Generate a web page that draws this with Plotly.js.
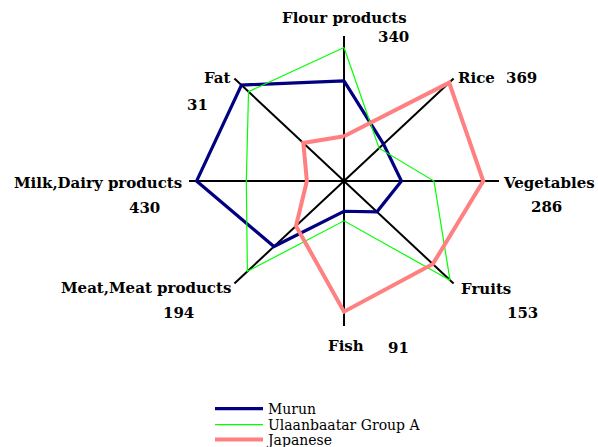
<!DOCTYPE html>
<html>
<head>
<meta charset="utf-8">
<script src="https://cdn.plot.ly/plotly-3.0.1.min.js"></script>
<style>html,body{margin:0;padding:0;background:#fff;}#chart{width:598px;height:447px;}</style>
</head>
<body>
<div id="chart"></div>
<script>
// ---- data ----
const categories = ['Flour products','Rice','Vegetables','Fruits','Fish','Meat,Meat products','Milk,Dairy products','Fat'];
const axisMax = [340, 369, 286, 153, 91, 194, 430, 31];
const seriesNames = ['Murun', 'Ulaanbaatar Group A', 'Japanese'];
const murun = [235, 133, 106, 46, 19, 124, 409, 29];
const ulaanbaatarA = [313, 118, 166, 148, 25, 171, 271, 27];
const japanese = [105, 354, 257, 124, 82, 85, 103, 11.5];

// ---- layout helpers ----
const W = 598, H = 447;
const cx = 344, cy = 181, sx = 155, sy = 145; // pixel centre and unit lengths
const angles = categories.map((_, i) => i * 2 * Math.PI / categories.length);
function toXY(vals) {
  const r = vals.map((v, i) => v / axisMax[i]);
  const x = r.map((ri, i) => ri * Math.sin(angles[i]));
  const y = r.map((ri, i) => ri * Math.cos(angles[i]));
  x.push(x[0]); y.push(y[0]);
  return {x, y};
}

const traces = [];
// spokes (axis lines through centre)
for (let i = 0; i < categories.length / 2; i++) {
  const a = angles[i], b = angles[i + categories.length / 2];
  traces.push({
    type: 'scatter', mode: 'lines', showlegend: false, hoverinfo: 'skip',
    x: [Math.sin(a), Math.sin(b)], y: [Math.cos(a), Math.cos(b)],
    line: {color: '#000000', width: 2}
  });
}
const styles = [
  {color: '#000080', width: 3.2},
  {color: '#00ff00', width: 1.2},
  {color: '#ff8080', width: 4}
];
const legendIds = ['legend', 'legend2', 'legend3'];
[murun, ulaanbaatarA, japanese].forEach((vals, k) => {
  const p = toXY(vals);
  traces.push({
    type: 'scatter', mode: 'lines', name: seriesNames[k], legend: legendIds[k],
    x: p.x, y: p.y, line: styles[k], hoverinfo: 'skip'
  });
});

// label placement (pixel centres)
const labelPos = [[345,18],[476,78],[549,183],[486,289],[346,346],[146,288],[98,183],[217,78]];
const maxPos = [[393,37],[521,78],[546,207],[522,313],[398,348],[178,313],[144,208],[197,105]];
const annotations = [];
const lblFont = {family: 'DejaVu Serif', size: 15, color: '#000', weight: 'bold'};
categories.forEach((c, i) => {
  annotations.push({xref:'paper', yref:'paper', x: labelPos[i][0]/W, y: 1 - labelPos[i][1]/H,
    text: c, showarrow: false, xanchor: 'center', yanchor: 'middle', font: lblFont});
  annotations.push({xref:'paper', yref:'paper', x: maxPos[i][0]/W, y: 1 - maxPos[i][1]/H,
    text: String(axisMax[i]), showarrow: false, xanchor: 'center', yanchor: 'middle', font: lblFont});
});

const legendRows = [409, 425, 440];
const layout = {
  width: W, height: H,
  margin: {l: 0, r: 0, t: 0, b: 0, pad: 0, autoexpand: false},
  paper_bgcolor: '#ffffff', plot_bgcolor: '#ffffff',
  xaxis: {range: [-cx/sx, (W-cx)/sx], visible: false, fixedrange: true},
  yaxis: {range: [-(H-cy)/sy, cy/sy], visible: false, fixedrange: true},
  showlegend: true,
  annotations: annotations,
  hovermode: false
};
legendIds.forEach((id, k) => {
  layout[id] = {x: 210/W, y: 1 - legendRows[k]/H, xanchor: 'left', yanchor: 'middle',
    bgcolor: 'rgba(0,0,0,0)', itemwidth: 48, borderwidth: 0,
    font: {family: 'DejaVu Serif', size: 14, color: '#000'}};
});
Plotly.newPlot('chart', traces, layout, {displayModeBar: false, staticPlot: true});
</script>
</body>
</html>
